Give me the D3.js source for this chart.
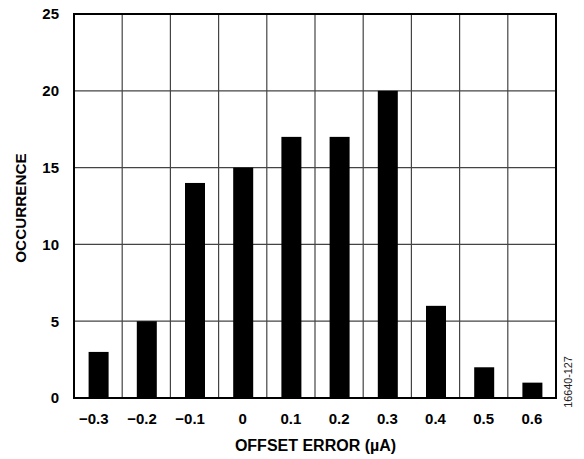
<!DOCTYPE html>
<html>
<head>
<meta charset="utf-8">
<script src="https://cdn.jsdelivr.net/npm/d3@7"></script>
<style>
  html, body { margin: 0; padding: 0; background: #fff; }
  svg { display: block; }
</style>
</head>
<body>
<svg id="chart" width="584" height="459"></svg>
<script>
// Histogram of offset error occurrences
const categories = ["−0.3", "−0.2", "−0.1", "0", "0.1", "0.2", "0.3", "0.4", "0.5", "0.6"];
const occurrences = [3, 5, 14, 15, 17, 17, 20, 6, 2, 1];
const yTicks = [0, 5, 10, 15, 20, 25];

const svg = d3.select("#chart");
const margin = { left: 74, top: 14, right: 28, bottom: 61 };
const W = 584, H = 459;
const innerW = W - margin.left - margin.right;
const innerH = H - margin.top - margin.bottom;

const font = "Arial, 'Liberation Sans', Helvetica, sans-serif";
const tickSize = 15;

const x = d3.scaleBand().domain(categories).range([0, innerW]).paddingInner(0).paddingOuter(0);
const y = d3.scaleLinear().domain([0, 25]).range([innerH, 0]);

const g = svg.append("g").attr("transform", `translate(${margin.left},${margin.top})`);

// Grid: vertical lines between categories, horizontal at y ticks
g.append("g").selectAll("line.v")
  .data(categories.slice(1))
  .join("line")
  .attr("x1", d => x(d)).attr("x2", d => x(d))
  .attr("y1", 0).attr("y2", innerH)
  .attr("stroke", "#444").attr("stroke-width", 1.2);

g.append("g").selectAll("line.h")
  .data(yTicks.slice(1, -1))
  .join("line")
  .attr("x1", 0).attr("x2", innerW)
  .attr("y1", d => y(d)).attr("y2", d => y(d))
  .attr("stroke", "#444").attr("stroke-width", 1.2);

// Bars
const barW = 20;
g.append("g").selectAll("rect")
  .data(categories.map((c, i) => ({ c, v: occurrences[i] })))
  .join("rect")
  .attr("x", d => x(d.c) + x.bandwidth() / 2 - barW / 2 + 0.5)
  .attr("width", barW)
  .attr("y", d => y(d.v))
  .attr("height", d => innerH - y(d.v))
  .attr("fill", "#000");

// Frame
g.append("rect")
  .attr("x", 0).attr("y", 0).attr("width", innerW).attr("height", innerH)
  .attr("fill", "none").attr("stroke", "#000").attr("stroke-width", 2);

// Y axis labels
const yAxis = d3.axisLeft(y).tickValues(yTicks).tickSize(0).tickPadding(15);
g.append("g").call(yAxis)
  .call(s => s.select(".domain").remove())
  .selectAll("text")
  .attr("font-family", font).attr("font-weight", "bold").attr("font-size", tickSize).attr("fill", "#000");

// X axis labels (minus sign hangs to the left of the centred number)
const xAxis = d3.axisBottom(x).tickSize(0).tickPadding(15.3);
g.append("g").attr("transform", `translate(0,${innerH})`).call(xAxis)
  .call(s => s.select(".domain").remove())
  .selectAll("text")
  .attr("font-family", font).attr("font-weight", "bold").attr("font-size", tickSize).attr("fill", "#000")
  .attr("dx", d => d.startsWith("−") ? "-0.29em" : null);

// Axis titles
svg.append("text")
  .attr("x", margin.left + innerW / 2 + 0.5).attr("y", 451)
  .attr("text-anchor", "middle")
  .attr("font-family", font).attr("font-weight", "bold").attr("font-size", 16)
  .text("OFFSET ERROR (µA)");

svg.append("text")
  .attr("transform", "translate(25.5,208) rotate(-90)")
  .attr("text-anchor", "middle")
  .attr("font-family", font).attr("font-weight", "bold").attr("font-size", 15.3)
  .text("OCCURRENCE");

// Figure code
svg.append("text")
  .attr("transform", "translate(572,382) rotate(-90)")
  .attr("text-anchor", "middle")
  .attr("font-family", font).attr("font-size", 10.8).attr("fill", "#222")
  .text("16640-127");
</script>
</body>
</html>
